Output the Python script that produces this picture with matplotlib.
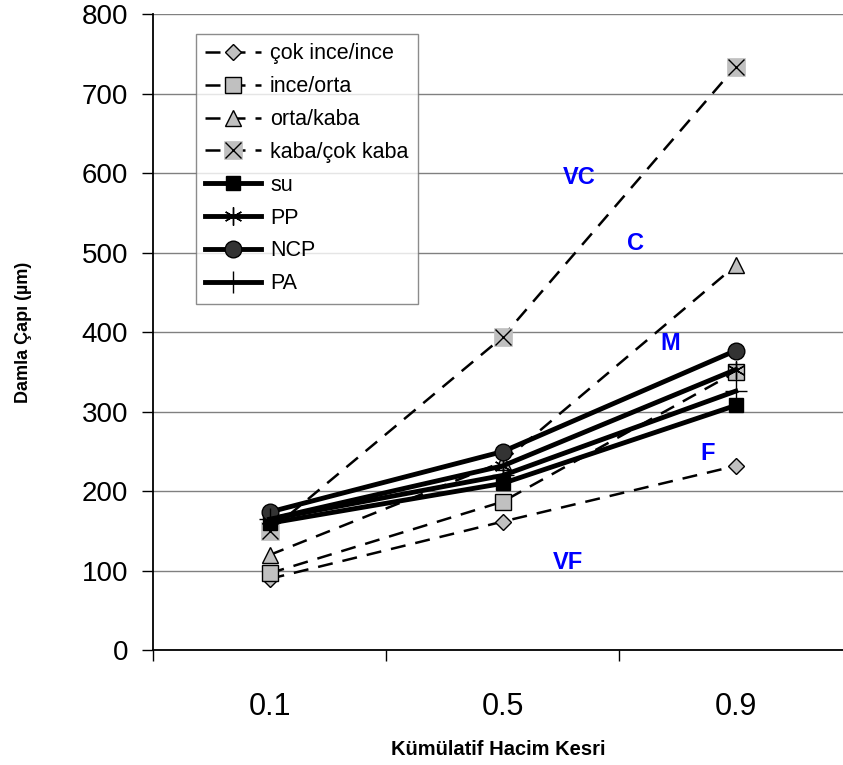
import matplotlib.pyplot as plt
from matplotlib.legend_handler import HandlerTuple

plt.rcParams['font.family'] = ['Liberation Sans', 'DejaVu Sans']

# kümülatif hacim kesri (kategoriler)
fractions = ['0.1', '0.5', '0.9']

# ASAE sınıf sınırları (kesikli çizgiler)
cok_ince_ince = [90, 162, 232]
ince_orta = [97, 187, 350]
orta_kaba = [120, 237, 484]
kaba_cok_kaba = [150, 394, 734]

# ölçülen damla çapları (düz çizgiler)
su = [160, 210, 308]
pp = [165, 232, 353]
ncp = [174, 250, 377]
pa = [165, 220, 326]

# sınıf etiketleri
class_names = ['VC', 'C', 'M', 'F', 'VF']
class_x = [1.33, 1.57, 1.72, 1.88, 1.28]
class_y = [595, 511, 386, 248, 110]

x = range(len(fractions))

fig = plt.figure(figsize=(8.43, 7.65), dpi=100)
ax = fig.add_axes([0.1815, 0.1497, 0.8185, 0.832])

gray = '#c0c0c0'
dash = (0, (6, 4))

h1, = ax.plot(x, cok_ince_ince, color='black', lw=1.8, linestyle=dash, marker='D',
              ms=8, mfc=gray, mec='black', mew=1)
h2, = ax.plot(x, ince_orta, color='black', lw=1.8, linestyle=dash, marker='s',
              ms=11, mfc=gray, mec='black', mew=1)
h3, = ax.plot(x, orta_kaba, color='black', lw=1.8, linestyle=dash, marker='^',
              ms=12, mfc=gray, mec='black', mew=1)
h4a, = ax.plot(x, kaba_cok_kaba, color='black', lw=1.8, linestyle=dash, marker='s',
               ms=13, mfc=gray, mec=gray, mew=0.5)
h4b, = ax.plot(x, kaba_cok_kaba, linestyle='none', marker='x', ms=11, mec='black', mew=1)
h5, = ax.plot(x, su, color='black', lw=3.5, marker='s', ms=10, mfc='black', mec='black')
h6, = ax.plot(x, pp, color='black', lw=3.5, marker=(6, 2, 0), ms=13, mec='black', mew=1)
h7, = ax.plot(x, ncp, color='black', lw=3.5, marker='o', ms=12, mfc='#333333', mec='black')
h8, = ax.plot(x, pa, color='black', lw=3.5, marker='+', ms=16, mec='black', mew=1)

for name, cx, cy in zip(class_names, class_x, class_y):
    ax.text(cx, cy, name, color='#0000ff', fontsize=17, fontweight='bold',
            ha='center', va='center')

ax.set_xlim(-0.5, 2.46)
ax.set_ylim(0, 800)
ax.set_yticks(range(0, 801, 100))
ax.yaxis.grid(True, color='#808080', lw=1)
ax.set_axisbelow(True)

ax.set_xticks(list(x))
ax.set_xticklabels(fractions, fontsize=22)
ax.set_xticks([-0.5, 0.5, 1.5], minor=True)
ax.tick_params(axis='x', which='major', length=0, pad=30)
ax.tick_params(axis='x', which='minor', length=8, direction='out', width=1)
ax.tick_params(axis='y', labelsize=20, length=8, width=1, pad=10)

for s in ['top', 'right']:
    ax.spines[s].set_visible(False)
ax.spines['left'].set_linewidth(1.3)
ax.spines['bottom'].set_linewidth(1.3)

ax.set_xlabel('Kümülatif Hacim Kesri', fontsize=14.5, fontweight='bold', labelpad=13)
ax.set_ylabel('Damla Çapı (µm)', fontsize=13, fontweight='bold', labelpad=36)

leg = ax.legend([h1, h2, h3, (h4a, h4b), h5, h6, h7, h8],
                ['çok ince/ince', 'ince/orta', 'orta/kaba', 'kaba/çok kaba',
                 'su', 'PP', 'NCP', 'PA'],
                handler_map={tuple: HandlerTuple(ndivide=1, pad=0)},
                loc='upper left', bbox_to_anchor=(0.062, 0.969), fontsize=15.5,
                frameon=True, fancybox=False, edgecolor='#707070',
                handlelength=2.6, handletextpad=0.4, labelspacing=0.55,
                borderpad=0.45, borderaxespad=0)
leg.get_frame().set_linewidth(1)

fig.savefig('out.png', dpi=100)
